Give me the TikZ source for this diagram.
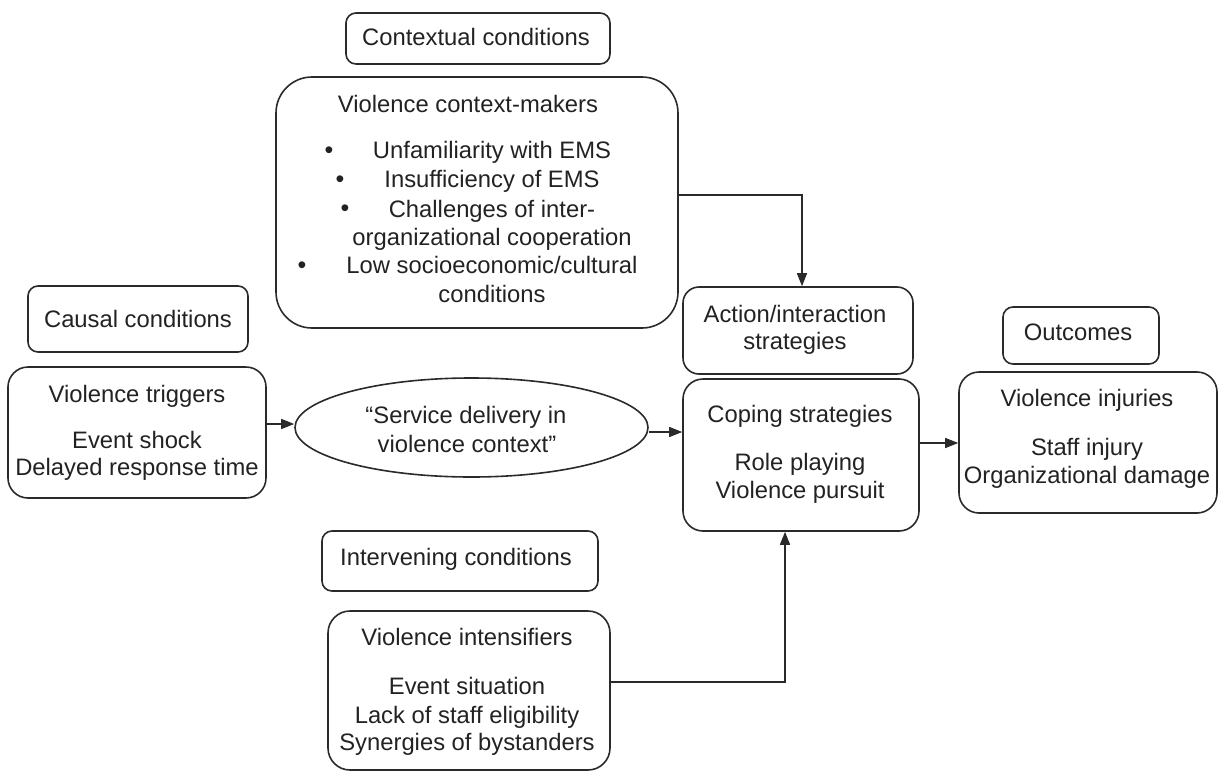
\documentclass[tikz,border=0pt]{standalone}
\usepackage{fontspec}
\setmainfont{Liberation Sans}
\usetikzlibrary{shapes.geometric,arrows.meta}
\definecolor{ink}{HTML}{222222}
\definecolor{edge}{HTML}{2A2A2A}
\tikzset{
  boxshape/.style={draw=edge, line width=1.6pt, rounded corners=#1, inner sep=0pt},
  boxshape/.default=18pt,
  txt/.style={anchor=base, inner sep=0pt, text=ink, font=\fontsize{23.8}{28}\selectfont},
  bul/.style={anchor=base, inner sep=0pt, text=ink, font=\fontsize{25}{28}\selectfont},
  arr/.style={draw=edge, line width=1.5pt, -{Triangle[length=13pt,width=10pt]}}
}
\newcommand{\boxat}[6]{% name, x1, y1, x2, y2, radius
  \node[boxshape=#6, minimum width={#4-#2}, minimum height={#5-#3}] (#1) at ({(#2+#4)/2},{(#3+#5)/2}) {};}
\begin{document}
\begin{tikzpicture}[x=1pt,y=-1pt]
\useasboundingbox (0,0) rectangle (1218,771);
\begin{scope}
\clip (0,0) rectangle (1218,771);
% boxes
\boxat{ctxt}{346}{13}{610}{64}{10pt}
\boxat{ctx}{276}{77}{678}{328}{36pt}
\boxat{caust}{28}{286}{248}{352}{10pt}
\boxat{trig}{8}{367}{266}{498}{20pt}
\node[draw=edge, line width=1.6pt, ellipse, minimum width=353pt, minimum height=99pt, inner sep=0pt] (ell) at (471.5,427.5) {};
\boxat{actt}{683}{287}{913}{374}{16pt}
\boxat{cope}{683}{379}{919}{531}{20pt}
\boxat{outt}{1003}{307}{1159}{364}{10pt}
\boxat{inj}{959}{372}{1217}{513}{20pt}
\boxat{intt}{322}{531}{598}{591}{10pt}
\boxat{intens}{328}{611}{610}{770}{22pt}
\end{scope}

% texts
\node[txt] (tctxt) at (476,45) {Contextual conditions};
\node[txt] (tctx0) at (468,112) {Violence context-makers};
\node[txt] (tctx1) at (492,158) {Unfamiliarity with EMS};
\node[txt] (tctx2) at (492,187) {Insufficiency of EMS};
\node[txt] (tctx3) at (492,217) {Challenges of inter-};
\node[txt] (tctx4) at (492,245) {organizational cooperation};
\node[txt] (tctx5) at (492,273) {Low socioeconomic/cultural};
\node[txt] (tctx6) at (492,302) {conditions};
\node[bul] (b1) at (329,158) {•};
\node[bul] (b2) at (340,187) {•};
\node[bul] (b3) at (345,216) {•};
\node[bul] (b4) at (302,273) {•};

\node[txt] (tcaus) at (138,327) {Causal conditions};
\node[txt] (ttrig0) at (137,402) {Violence triggers};
\node[txt] (ttrig1) at (137,448) {Event shock};
\node[txt] (ttrig2) at (137,475) {Delayed response time};

\node[txt] (tell0) at (466,423) {“Service delivery in};
\node[txt] (tell1) at (467,452) {violence context”};

\node[txt] (tact0) at (795,322) {Action/interaction};
\node[txt] (tact1) at (795,349) {strategies};
\node[txt] (tcope0) at (800,422) {Coping strategies};
\node[txt] (tcope1) at (800,470) {Role playing};
\node[txt] (tcope2) at (800,498) {Violence pursuit};

\node[txt] (tout) at (1078,340) {Outcomes};
\node[txt] (tinj0) at (1087,406) {Violence injuries};
\node[txt] (tinj1) at (1087,455) {Staff injury};
\node[txt] (tinj2) at (1087,483) {Organizational damage};

\node[txt] (tint) at (456,565) {Intervening conditions};
\node[txt] (tintens0) at (467,645) {Violence intensifiers};
\node[txt] (tintens1) at (467,694) {Event situation};
\node[txt] (tintens2) at (467,723) {Lack of staff eligibility};
\node[txt] (tintens3) at (467,750) {Synergies of bystanders};

% connectors
\coordinate (k1) at (802,195);
\coordinate (k2) at (0,424);
\coordinate (k3) at (0,432);
\coordinate (k4) at (0,443);
\coordinate (k5) at (785,682);
\draw[arr] (k1 -| ctx.east) -| (k1 |- actt.north);
\draw[arr] (trig.east |- k2) -- (ell.west |- k2);
\draw[arr] (ell.east |- k3) -- (cope.west |- k3);
\draw[arr] (cope.east |- k4) -- (inj.west |- k4);
\draw[arr] (k5 -| intens.east) -| (k5 |- cope.south);
\end{tikzpicture}
\end{document}
